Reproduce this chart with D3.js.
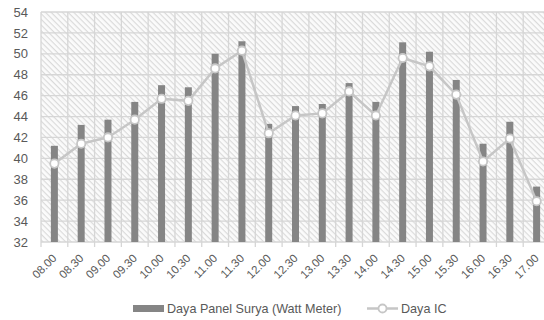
<!DOCTYPE html>
<html>
<head>
<meta charset="utf-8">
<script src="https://cdn.jsdelivr.net/npm/d3@7/dist/d3.min.js"></script>
<style>
  html, body { margin: 0; padding: 0; background: #fff; }
  svg { display: block; font-family: "Liberation Sans", "Open Sans", sans-serif; }
</style>
</head>
<body>
<svg id="chart" width="544" height="320"></svg>
<script>
// Time of measurement
const categories = ["08.00","08.30","09.00","09.30","10.00","10.30","11.00","11.30","12.00","12.30",
  "13.00","13.30","14.00","14.30","15.00","15.30","16.00","16.30","17.00"];
// Daya Panel Surya (Watt Meter)
const panelPower = [41.2,43.2,43.7,45.4,47.0,46.8,50.0,51.2,43.3,45.0,
  45.2,47.2,45.4,51.1,50.2,47.5,41.4,43.5,37.3];
// Daya IC
const icPower = [39.5,41.4,42.0,43.7,45.7,45.5,48.6,50.3,42.4,44.1,
  44.3,46.4,44.1,49.6,48.8,46.1,39.7,41.9,35.9];
const yTicks = [32,34,36,38,40,42,44,46,48,50,52,54];
const seriesNames = ["Daya Panel Surya (Watt Meter)", "Daya IC"];

const svg = d3.select("#chart");
const plotLeft = 41, plotTop = 12, plotBottom = 242;
const bandW = 26.79;
const plotRight = plotLeft + bandW * categories.length;

const x = d3.scaleBand().domain(categories).range([plotLeft, plotRight]);
const y = d3.scaleLinear().domain([32, 54]).range([plotBottom, plotTop]);

// hatched plot background
const defs = svg.append("defs");
const pat = defs.append("pattern")
  .attr("id", "hatch").attr("patternUnits", "userSpaceOnUse")
  .attr("width", 4).attr("height", 4)
  .attr("patternTransform", "rotate(45)");
pat.append("rect").attr("width", 4).attr("height", 4).attr("fill", "#fbfbfb");
pat.append("line").attr("x1", 0).attr("y1", 0.6).attr("x2", 4).attr("y2", 0.6)
  .attr("stroke", "#d9d9d9").attr("stroke-width", 1.1);

svg.append("rect").attr("x", plotLeft).attr("y", plotTop)
  .attr("width", plotRight - plotLeft).attr("height", plotBottom - plotTop)
  .attr("fill", "url(#hatch)");

// grid lines
const grid = svg.append("g").attr("stroke", "#d6d6d6").attr("stroke-width", 1.3);
grid.selectAll("line.h").data(yTicks).join("line").attr("class", "h")
  .attr("x1", plotLeft).attr("x2", plotRight)
  .attr("y1", d => y(d)).attr("y2", d => y(d));
const bounds = categories.map(c => x(c)).concat([plotRight]);
grid.selectAll("line.v").data(bounds).join("line").attr("class", "v")
  .attr("x1", d => d).attr("x2", d => d)
  .attr("y1", plotTop).attr("y2", plotBottom + 5);

// y axis labels
const yAxis = d3.axisLeft(y).tickValues(yTicks).tickSize(0).tickPadding(13);
svg.append("g").attr("transform", `translate(${plotLeft},0)`).call(yAxis)
  .call(g => g.select(".domain").remove())
  .call(g => g.selectAll("text").attr("fill", "#595959").attr("font-size", 13)
    .attr("font-family", "'Liberation Sans', sans-serif"));

// x axis labels, rotated
const xAxis = d3.axisBottom(x).tickSize(0).tickPadding(0);
svg.append("g").attr("transform", `translate(0,${plotBottom})`).call(xAxis)
  .call(g => g.select(".domain").remove())
  .call(g => g.selectAll("text")
    .attr("fill", "#595959").attr("font-size", 11.5)
    .attr("font-family", "'Liberation Sans', sans-serif")
    .attr("text-anchor", "end")
    .attr("y", 0).attr("dy", 0)
    .attr("transform", "translate(3,17) rotate(-45)"));

// bars
const barW = 7;
svg.append("g").selectAll("rect").data(panelPower).join("rect")
  .attr("x", (d, i) => x(categories[i]) + x.bandwidth() / 2 - barW / 2)
  .attr("width", barW)
  .attr("y", d => y(d))
  .attr("height", d => y(32) - y(d))
  .attr("fill", "#858585");

// line with markers
const line = d3.line()
  .x((d, i) => x(categories[i]) + x.bandwidth() / 2)
  .y(d => y(d));
svg.append("path").datum(icPower).attr("d", line)
  .attr("fill", "none").attr("stroke", "#c6c6c6").attr("stroke-width", 2.5);
svg.append("g").selectAll("circle").data(icPower).join("circle")
  .attr("cx", (d, i) => x(categories[i]) + x.bandwidth() / 2)
  .attr("cy", d => y(d))
  .attr("r", 4.2)
  .attr("fill", "#ffffff").attr("stroke", "#c6c6c6").attr("stroke-width", 1.8);

// legend
const lg = svg.append("g").attr("font-size", 12.6).attr("fill", "#595959");
lg.append("rect").attr("x", 133).attr("y", 305).attr("width", 31).attr("height", 7).attr("fill", "#858585");
lg.append("text").attr("x", 167).attr("y", 313).attr("fill", "#595959").text(seriesNames[0]);
lg.append("line").attr("x1", 367).attr("x2", 398).attr("y1", 308.5).attr("y2", 308.5)
  .attr("stroke", "#c6c6c6").attr("stroke-width", 2.5);
lg.append("circle").attr("cx", 382.5).attr("cy", 308.5).attr("r", 4)
  .attr("fill", "#fff").attr("stroke", "#c6c6c6").attr("stroke-width", 1.8);
lg.append("text").attr("x", 401).attr("y", 313).attr("fill", "#595959").text(seriesNames[1]);
</script>
</body>
</html>
